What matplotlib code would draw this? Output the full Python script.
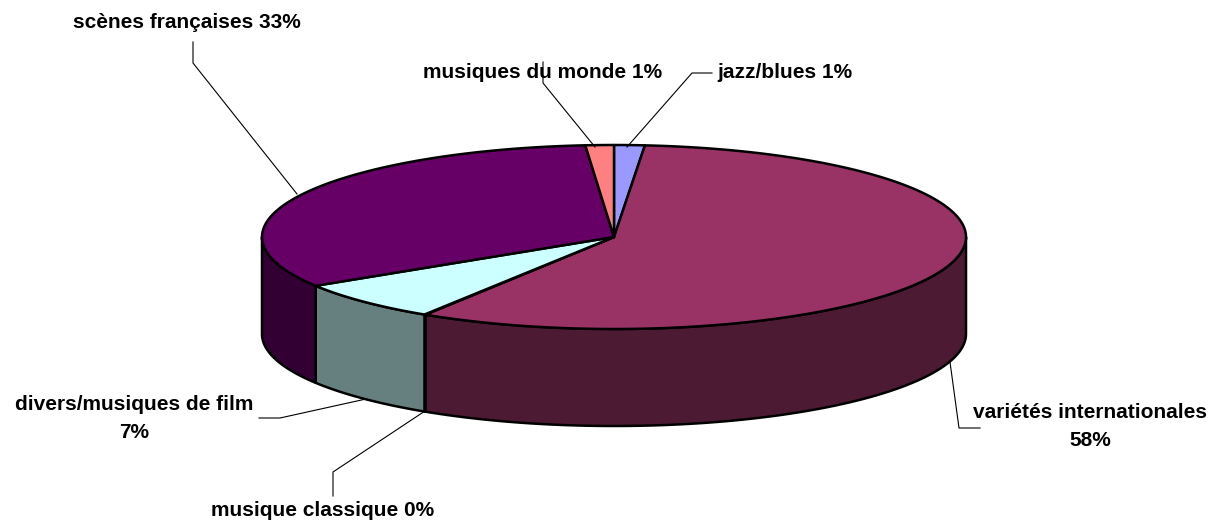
import numpy as np
import matplotlib
matplotlib.use("Agg")
import matplotlib.pyplot as plt
from matplotlib.patches import Polygon

plt.rcParams["font.family"] = ["Liberation Sans", "DejaVu Sans"]

# Slices, in clockwise order starting at 12 o'clock
labels = ["jazz/blues 1%", "variétés internationales\n58%", "musique classique 0%",
          "divers/musiques de film\n7%", "scènes françaises 33%", "musiques du monde 1%"]
values = [1.4, 57.6, 0.05, 7.05, 32.6, 1.3]
top_colors = ["#9999FF", "#993366", "#FFFFCC", "#CCFFFF", "#660066", "#FF8080"]
side_colors = ["#4D4D80", "#4D1A33", "#808066", "#668080", "#330033", "#804040"]

# Label anchors and leader lines (pixel coords, y down)
label_pos = [(785, 72), (1090, 427), (323, 510), (134, 419), (187, 22), (543, 72)]
leader_pts = [
    [(712, 73), (692, 73)],
    [(980, 428), (959, 428)],
    [(333, 496), (333, 472)],
    [(259, 418), (280, 418)],
    [(193, 42), (193, 63)],
    [(543, 62), (543, 83)],
]
leader_end = [(627, 147), (950, 362), (425, 411), (366, 399), (297, 194), (595, 147)]

cx, cy, rx, ry, depth = 614, 237, 352, 92, 97

fig = plt.figure(figsize=(12.26, 5.26), dpi=100)
ax = fig.add_axes([0, 0, 1, 1])
ax.set_xlim(0, 1226)
ax.set_ylim(526, 0)
ax.axis("off")


def pt(theta_deg, dy=0):
    t = np.radians(theta_deg)
    return cx + rx * np.sin(t), cy - ry * np.cos(t) + dy


bounds = np.concatenate([[0], np.cumsum(values) / np.sum(values) * 360])

# side walls (only front half visible: 90..270 deg)
for i in range(len(values)):
    a, b = max(bounds[i], 90), min(bounds[i + 1], 270)
    if b <= a:
        continue
    th = np.linspace(a, b, 80)
    xs, ys = pt(th)
    xb, yb = pt(th[::-1], depth)
    poly = np.column_stack([np.concatenate([xs, xb]), np.concatenate([ys, yb])])
    ax.add_patch(Polygon(poly, closed=True, facecolor=side_colors[i],
                         edgecolor="black", linewidth=1.8, joinstyle="round"))

# top faces
for i in range(len(values)):
    th = np.linspace(bounds[i], bounds[i + 1], 200)
    xs, ys = pt(th)
    poly = np.column_stack([np.concatenate([[cx], xs]), np.concatenate([[cy], ys])])
    ax.add_patch(Polygon(poly, closed=True, facecolor=top_colors[i],
                         edgecolor="black", linewidth=1.8, joinstyle="round"))

# leader lines and labels
for i in range(len(values)):
    pts = leader_pts[i] + [leader_end[i]]
    ax.plot([p[0] for p in pts], [p[1] for p in pts], color="black", linewidth=0.8)
    x, y = label_pos[i]
    ax.text(x, y, labels[i], ha="center", va="center", fontsize=15,
            fontweight="bold", linespacing=1.6)

fig.savefig("out.png", dpi=100)
